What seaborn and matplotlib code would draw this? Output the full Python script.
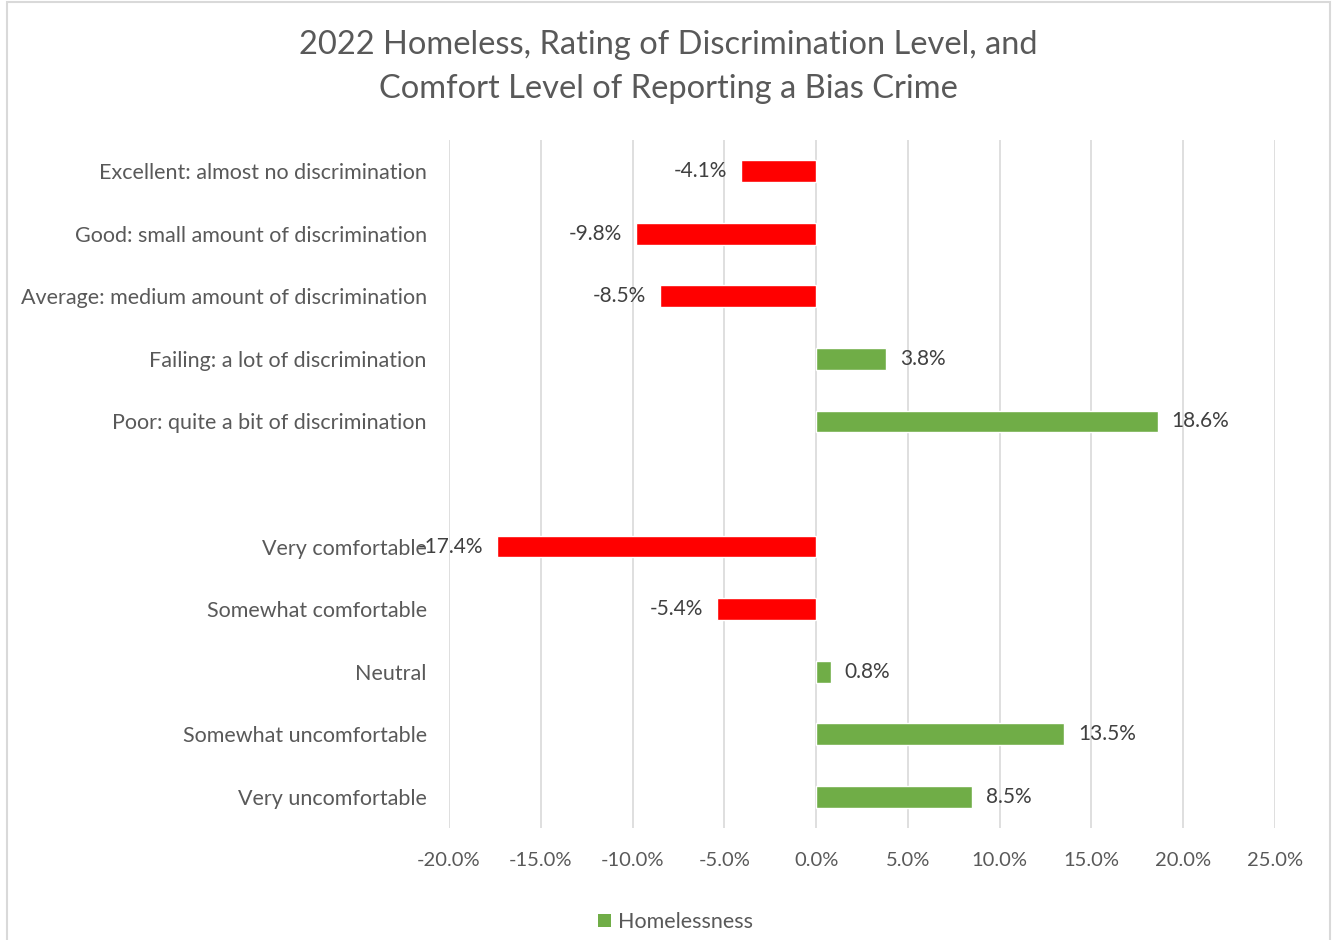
import numpy as np
import pandas as pd
import matplotlib
matplotlib.use("Agg")
import matplotlib.pyplot as plt
from matplotlib.patches import Patch, Rectangle
import seaborn as sns

# Survey response categories (blank entry separates the two question groups)
categories = [
    "Excellent: almost no discrimination",
    "Good: small amount of discrimination",
    "Average: medium amount of discrimination",
    "Failing: a lot of discrimination",
    "Poor: quite a bit of discrimination",
    " ",
    "Very comfortable",
    "Somewhat comfortable",
    "Neutral",
    "Somewhat uncomfortable",
    "Very uncomfortable",
]
# Difference in percentage points for homeless respondents
values = [-4.1, -9.8, -8.5, 3.8, 18.6, np.nan, -17.4, -5.4, 0.8, 13.5, 8.5]
x_ticks = [-20, -15, -10, -5, 0, 5, 10, 15, 20, 25]

RED = "#FF0000"
GREEN = "#70AD47"
TEXT = "#595959"
GRID = "#D9D9D9"

sns.set_theme(style="white")
plt.rcParams["font.family"] = ["Lato", "DejaVu Sans"]

df = pd.DataFrame({"category": categories, "value": values})
palette = {c: (RED if (v < 0) else GREEN) for c, v in zip(categories, values)}

fig = plt.figure(figsize=(13.32, 9.40), dpi=100)
ax = fig.add_axes([449 / 1332, 1 - 828 / 940, (1275 - 449) / 1332, (828 - 140) / 940])

sns.barplot(data=df, y="category", x="value", hue="category", order=categories,
            palette=palette, legend=False, width=0.35, ax=ax, saturation=1,
            errorbar=None)

ax.set_xlim(-20, 25)
ax.set_xticks(x_ticks)
ax.set_xticklabels([f"{t:.1f}%" for t in x_ticks], color=TEXT, fontsize=14.5)
ax.tick_params(axis="x", length=0, pad=17)
ax.tick_params(axis="y", length=0, pad=16, labelsize=15.5, labelcolor=TEXT)
ax.set_xlabel("")
ax.set_ylabel("")
ax.xaxis.grid(True, color=GRID, linewidth=1.2)
ax.set_axisbelow(True)
for s in ax.spines.values():
    s.set_visible(False)

for cont in ax.containers:
    labs = []
    for bar in cont:
        w = bar.get_width()
        labs.append("" if np.isnan(w) else f"{w:.1f}%")
    ax.bar_label(cont, labels=labs, padding=10, fontsize=15, color="#404040")

fig.text(0.502, 1 - 67 / 940,
         "2022 Homeless, Rating of Discrimination Level, and\nComfort Level of Reporting a Bias Crime",
         ha="center", va="center", fontsize=23.5, color=TEXT, linespacing=1.55)

fig.legend(handles=[Patch(facecolor=GREEN, edgecolor="none", label="Homelessness")],
           loc="center", bbox_to_anchor=(0.507, 0.019), frameon=False,
           fontsize=15.5, labelcolor=TEXT, handlelength=0.6, handleheight=0.6,
           handletextpad=0.3)

fig.patches.append(Rectangle((7 / 1332, -0.01), (1330 - 7) / 1332, 1.0 - 2 / 940 + 0.01,
                             transform=fig.transFigure, fill=False,
                             edgecolor=GRID, linewidth=1.5))

fig.savefig("out.png", dpi=100)
